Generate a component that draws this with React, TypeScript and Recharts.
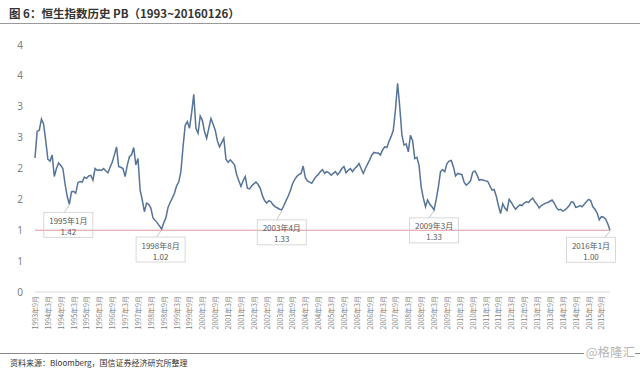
import React from "react";
import { LineChart, Line, XAxis, YAxis, ReferenceLine, ReferenceDot } from "recharts";

// monthly PB of the Hang Seng Index, first point is 1993年9月
const START_YEAR = 1993;
const START_MONTH = 9;

const pbValues = [
  2.17, 2.6, 2.62, 2.8, // 1993
  2.72, 2.45, 2.15, 2.12, 2.22, 1.87, 2.0, 2.09, 2.05, 2.0, 1.75, 1.55, // 1994
  1.42, 1.62, 1.63, 1.6, 1.77, 1.79, 1.78, 1.86, 1.84, 1.88, 1.89, 1.81, // 1995
  2.0, 1.97, 1.98, 1.97, 2.0, 1.96, 1.93, 2.02, 2.1, 2.22, 2.35, 2.03, // 1996
  2.02, 2.0, 1.87, 2.05, 2.19, 2.22, 2.34, 2.06, 2.16, 1.65, 1.49, 1.3, // 1997
  1.44, 1.42, 1.36, 1.2, 1.16, 1.12, 1.07, 1.02, 1.12, 1.2, 1.37, 1.45, // 1998
  1.52, 1.6, 1.72, 1.78, 1.95, 2.35, 2.7, 2.76, 2.65, 2.9, 3.2, 2.65, // 1999
  2.57, 2.85, 2.78, 2.6, 2.49, 2.65, 2.81, 2.72, 2.62, 2.45, 2.35, 2.42, // 2000
  2.49, 2.15, 2.1, 2.14, 2.1, 2.06, 1.9, 1.8, 1.71, 1.8, 1.87, 1.68, // 2001
  1.67, 1.72, 1.75, 1.78, 1.74, 1.68, 1.56, 1.48, 1.44, 1.48, 1.46, 1.41, // 2002
  1.38, 1.36, 1.34, 1.33, 1.4, 1.48, 1.55, 1.64, 1.75, 1.82, 1.87, 1.9, // 2003
  1.92, 2.04, 1.85, 1.8, 1.78, 1.76, 1.82, 1.87, 1.9, 1.95, 1.98, 1.92, // 2004
  1.95, 1.93, 1.89, 1.92, 1.95, 1.9, 1.94, 2.0, 2.03, 1.93, 1.97, 2.0, // 2005
  1.95, 2.0, 2.03, 2.08, 2.0, 1.92, 2.0, 2.07, 2.14, 2.22, 2.26, 2.25, // 2006
  2.25, 2.22, 2.3, 2.35, 2.34, 2.44, 2.52, 2.62, 2.95, 3.38, 3.0, 2.55, // 2007
  2.38, 2.4, 2.27, 2.54, 2.45, 2.16, 2.18, 2.05, 1.7, 1.52, 1.38, 1.49, // 2008
  1.42, 1.38, 1.33, 1.5, 1.7, 1.95, 1.98, 1.95, 2.08, 2.12, 2.13, 2.03, // 2009
  1.88, 1.92, 1.91, 1.9, 1.78, 1.73, 1.76, 1.8, 1.94, 1.96, 1.9, 1.81, // 2010
  1.82, 1.81, 1.8, 1.79, 1.72, 1.65, 1.66, 1.55, 1.4, 1.27, 1.43, 1.36, // 2011
  1.32, 1.5, 1.45, 1.39, 1.34, 1.38, 1.41, 1.4, 1.44, 1.46, 1.45, 1.49, // 2012
  1.52, 1.46, 1.42, 1.36, 1.4, 1.42, 1.44, 1.45, 1.47, 1.49, 1.44, 1.37, // 2013
  1.33, 1.34, 1.31, 1.33, 1.36, 1.4, 1.46, 1.45, 1.37, 1.38, 1.4, 1.38, // 2014
  1.42, 1.46, 1.5, 1.48, 1.38, 1.34, 1.28, 1.17, 1.22, 1.21, 1.18, 1.1, // 2015
  1.0, // 2016
];

const monthLabels = pbValues.map((_, i) => {
  const t = START_MONTH - 1 + i;
  return `${START_YEAR + Math.floor(t / 12)}年${(t % 12) + 1}月`;
});

const yTicks = [0, 0.5, 1, 1.5, 2, 2.5, 3, 3.5, 4];
const yTickLabels = ["0", "1", "1", "2", "2", "3", "3", "4", "4"];

const calloutMonths = ["1995年1月", "1998年8月", "2003年4月", "2009年3月", "2016年1月"];
const calloutValues = [1.42, 1.02, 1.33, 1.33, 1.0];

// where each callout box sits relative to its point
const calloutPlacement = [
  { dx: -1, dy: 8 },
  { dx: -1, dy: 8 },
  { dx: 0, dy: 10 },
  { dx: 0, dy: 8 },
  { dx: -19, dy: 7 },
];

const data = monthLabels.map((m, i) => ({ month: m, pb: pbValues[i] }));

const BOX_W = 49;
const BOX_H = 25;

function Callout({ cx, cy, month, value, dx, dy }: any) {
  if (cx == null || cy == null) return null;
  const left = cx + dx - BOX_W / 2;
  const top = cy + dy;
  const lx = Math.min(Math.max(cx - 5, left + 4), left + BOX_W - 4);
  return (
    <g>
      <line x1={cx} y1={cy + 1} x2={lx} y2={top} stroke="#b8b8b8" strokeWidth={0.8} />
      <rect x={left} y={top} width={BOX_W} height={BOX_H} fill="none" stroke="#cfcfcf" strokeWidth={0.8} />
      <text x={left + BOX_W / 2} y={top + 8} textAnchor="middle" dominantBaseline="central" fontSize={8} fill="#595959">
        {month}
      </text>
      <text x={left + BOX_W / 2} y={top + 19} textAnchor="middle" dominantBaseline="central" fontSize={8} fill="#595959">
        {value.toFixed(2)}
      </text>
    </g>
  );
}

function MonthTick({ x, y, payload }: any) {
  return (
    <text
      x={x}
      y={y}
      transform={`rotate(-90 ${x} ${y})`}
      textAnchor="end"
      dominantBaseline="central"
      fontSize={7}
      fill="#7f7f7f"
    >
      {payload.value}
    </text>
  );
}

export default function App() {
  return (
    <div
      style={{
        position: "absolute",
        left: 0,
        top: 0,
        width: 640,
        height: 373,
        background: "#fff",
        fontFamily: "'Noto Sans CJK SC', 'Noto Sans', sans-serif",
        overflow: "hidden",
      }}
    >
      {/* title */}
      <div
        style={{
          position: "absolute",
          left: 9,
          top: 5,
          fontSize: 11.5,
          fontWeight: 700,
          color: "#333",
          lineHeight: "16px",
          whiteSpace: "nowrap",
        }}
      >
        图 6：恒生指数历史 PB（1993~20160126）
      </div>
      <div style={{ position: "absolute", left: 0, top: 23, width: 640, height: 1, background: "#9a9a9a" }} />

      <div style={{ position: "absolute", left: 0, top: 0 }}>
        <LineChart width={640} height={373} data={data} margin={{ top: 45, right: 30, left: 0, bottom: 0 }}>
          <XAxis
            dataKey="month"
            interval={5}
            height={81}
            tickSize={0}
            tickMargin={4}
            tickLine={false}
            axisLine={{ stroke: "#d9d9d9" }}
            tick={<MonthTick />}
          />
          <YAxis
            domain={[0, 4]}
            ticks={yTicks}
            width={35}
            axisLine={false}
            tickLine={false}
            tickMargin={6}
            interval={0}
            tick={{ fontSize: 10, fill: "#808080", fontFamily: "'Noto Sans', sans-serif" }}
            tickFormatter={(v: number) => yTickLabels[yTicks.indexOf(v)]}
          />
          <ReferenceLine y={1} stroke="#e29a9a" strokeWidth={1} />
          <Line
            type="linear"
            dataKey="pb"
            stroke="#56739a"
            strokeWidth={1.5}
            dot={false}
            isAnimationActive={false}
          />
          {calloutMonths.map((m, i) => (
            <ReferenceDot
              key={m}
              x={m}
              y={calloutValues[i]}
              r={0}
              ifOverflow="visible"
              shape={(p: any) => (
                <Callout
                  cx={p.cx}
                  cy={p.cy}
                  month={m}
                  value={calloutValues[i]}
                  dx={calloutPlacement[i].dx}
                  dy={calloutPlacement[i].dy}
                />
              )}
            />
          ))}
        </LineChart>
      </div>

      {/* footer */}
      <div style={{ position: "absolute", left: 0, top: 353, width: 640, height: 1, background: "#8a8a8a" }} />
      <div
        style={{
          position: "absolute",
          left: 10,
          top: 357,
          fontSize: 8,
          color: "#333",
          lineHeight: "12px",
          whiteSpace: "nowrap",
        }}
      >
        资料来源：Bloomberg，国信证券经济研究所整理
      </div>
      <div
        style={{
          position: "absolute",
          right: 5,
          top: 343,
          fontSize: 12.5,
          color: "#b5b5b5",
          background: "#fff",
          lineHeight: "17px",
          paddingLeft: 2,
          whiteSpace: "nowrap",
        }}
      >
        @格隆汇
      </div>
    </div>
  );
}
